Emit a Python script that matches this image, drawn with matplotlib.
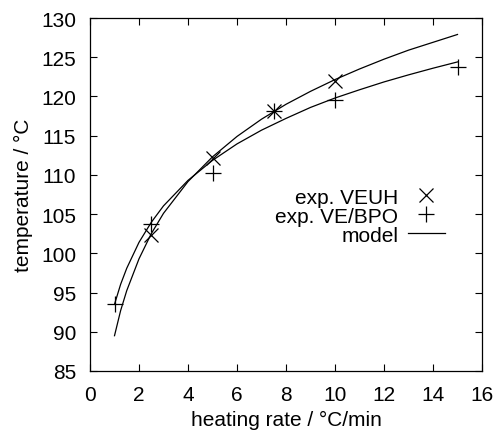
import matplotlib
matplotlib.use("Agg")
import matplotlib.pyplot as plt

# experimental data
veuh_rate = [2.5, 5.0, 7.5, 10.0]
veuh_temp = [102.4, 112.1, 118.1, 122.0]
bpo_rate = [1.0, 2.5, 5.0, 7.5, 10.0, 15.0]
bpo_temp = [93.5, 103.7, 110.2, 118.2, 119.6, 123.8]

# model curves
model_rate = [1.0, 1.25, 1.5, 2.0, 2.5, 3.0, 4.0, 5.0, 6.0, 7.0, 8.0, 9.0, 10.0, 11.0, 12.0, 13.0, 14.0, 15.0]
model_veuh = [89.5, 92.7, 95.25, 99.3, 102.5, 105.1, 109.15, 112.3, 114.9, 117.1, 119.0, 120.65,
              122.15, 123.5, 124.75, 125.9, 126.9, 127.9]
model_bpo = [93.5, 96.05, 98.1, 101.4, 103.95, 106.05, 109.3, 111.85, 113.95, 115.7, 117.2, 118.6,
             119.8, 120.85, 121.85, 122.75, 123.6, 124.4]

x_ticks = [0, 2, 4, 6, 8, 10, 12, 14, 16]
y_ticks = [85, 90, 95, 100, 105, 110, 115, 120, 125, 130]

plt.rcParams['font.family'] = ['Liberation Sans', 'DejaVu Sans']
plt.rcParams['font.size'] = 15

fig = plt.figure(figsize=(4.94, 4.31), dpi=100)
ax = fig.add_axes([90 / 494, 1 - 372 / 431, 392 / 494, 353 / 431])

ax.plot(veuh_rate, veuh_temp, linestyle='none', marker='x', markersize=10, mew=0.9,
        color='black', label='exp. VEUH')
ax.plot(bpo_rate, bpo_temp, linestyle='none', marker='+', markersize=11, mew=0.9,
        color='black', label='exp. VE/BPO')
ax.plot(model_rate, model_veuh, color='black', lw=0.9, label='model')
ax.plot(model_rate, model_bpo, color='black', lw=0.9)

ax.set_xlim(0, 16)
ax.set_ylim(85, 130)
ax.set_xticks(x_ticks)
ax.set_yticks(y_ticks)
ax.tick_params(direction='in', top=True, right=True, length=5, width=0.8, pad=10)
for s in ax.spines.values():
    s.set_linewidth(0.9)

ax.set_xlabel('heating rate / °C/min', labelpad=4)
ax.set_ylabel('temperature / °C', labelpad=6)

ax.legend(loc='center right', bbox_to_anchor=(0.906, 0.439), frameon=False, markerfirst=False,
          borderpad=0, borderaxespad=0, handlelength=1.8, handletextpad=0.45, labelspacing=0.0)

fig.savefig('out.png', dpi=100)
